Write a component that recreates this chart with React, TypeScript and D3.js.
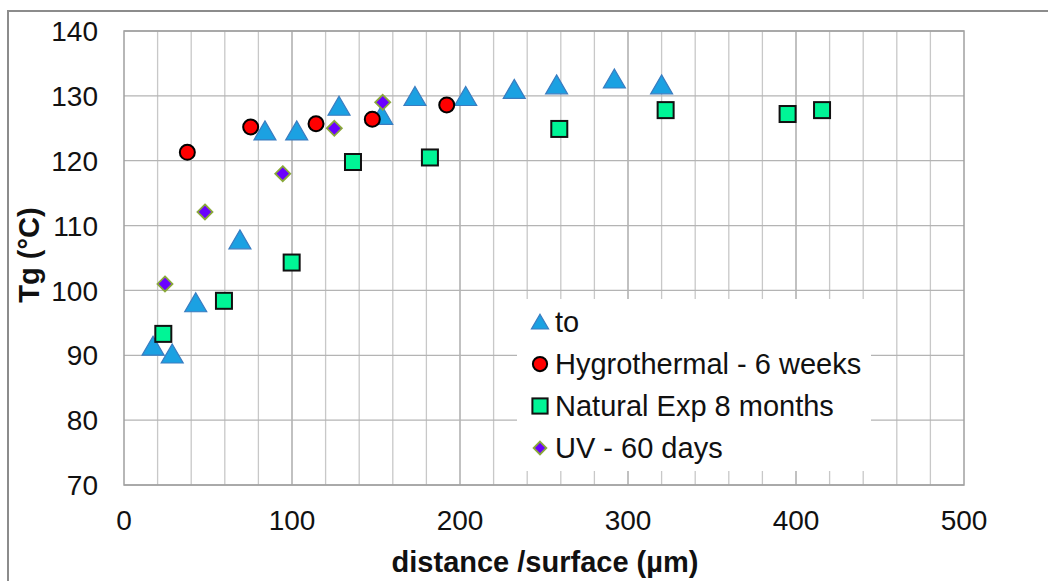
import React from "react";
import * as d3 from "d3";

const xTicks = [0, 100, 200, 300, 400, 500];
const yTicks = [70, 80, 90, 100, 110, 120, 130, 140];

const toX = [17.3, 28.7, 42.7, 69, 83.9, 102.8, 128, 153.4, 173.2, 203.4, 232.3, 257.5, 291.9, 320];
const toY = [91.4, 90.2, 98.1, 107.8, 124.6, 124.6, 128.4, 127.0, 129.9, 129.9, 131.0, 131.7, 132.6, 131.7];

const hygX = [37.7, 75.4, 114.3, 147.8, 192.1];
const hygY = [121.3, 125.2, 125.7, 126.4, 128.6];

const natX = [23.4, 59.5, 99.8, 136.3, 182.1, 259.1, 322.4, 395.0, 415.5];
const natY = [93.3, 98.4, 104.3, 119.8, 120.5, 124.9, 127.8, 127.2, 127.8];

const uvX = [24.4, 48.2, 94.5, 125.2, 154];
const uvY = [101.0, 112.1, 118.0, 125.0, 129.0];

const seriesNames = ["to", "Hygrothermal - 6 weeks", "Natural Exp 8 months", "UV - 60 days"];

const FONT = "Arial, 'Liberation Sans', sans-serif";

function Marker({ kind, x, y, s = 1 }: { kind: number; x: number; y: number; s?: number }) {
  if (kind === 0) {
    const p = `M${x},${y - 10 * s} L${x + 11 * s},${y + 9 * s} L${x - 11 * s},${y + 9 * s} Z`;
    return <path d={p} fill="#1ba1e2" stroke="#3a7cc0" strokeWidth={1.2} />;
  }
  if (kind === 1) {
    return <circle cx={x} cy={y} r={7.5 * s} fill="#ff0000" stroke="#000" strokeWidth={2} />;
  }
  if (kind === 2) {
    const h = 8 * s;
    return <rect x={x - h} y={y - h} width={2 * h} height={2 * h} fill="#00f596" stroke="#111" strokeWidth={2} />;
  }
  const d = 7.5 * s;
  const p = `M${x},${y - d} L${x + d},${y} L${x},${y + d} L${x - d},${y} Z`;
  return <path d={p} fill="#6a00ff" stroke="#8aa83a" strokeWidth={1.8} />;
}

export default function App() {
  const left = 124, right = 964, top = 31, bottom = 485;
  const x = d3.scaleLinear().domain([0, 500]).range([left, right]);
  const y = d3.scaleLinear().domain([70, 140]).range([bottom, top]);
  const minorX = d3.range(20, 500, 20).filter((v) => v % 100 !== 0);
  const majorX = [100, 200, 300, 400];

  const series = [
    { xs: toX, ys: toY },
    { xs: hygX, ys: hygY },
    { xs: natX, ys: natY },
    { xs: uvX, ys: uvY },
  ];

  const legX = 517, legY = 299, legW = 354, legH = 172;
  const legRows = [322, 364, 406, 448];

  return (
    <svg width={1048} height={581} style={{ position: "absolute", left: 0, top: 0 }}>
      <rect x={0} y={0} width={1048} height={581} fill="#fff" />
      <rect x={8} y={11} width={1050} height={600} fill="#fff" stroke="#8c8c8c" strokeWidth={2} />
      {minorX.map((v) => (
        <line key={"mx" + v} x1={x(v)} x2={x(v)} y1={top} y2={bottom} stroke="#c8c8c8" strokeWidth={1.3} />
      ))}
      {majorX.map((v) => (
        <line key={"Mx" + v} x1={x(v)} x2={x(v)} y1={top} y2={bottom} stroke="#a0a0a0" strokeWidth={1.3} />
      ))}
      {yTicks.map((v) => (
        <line key={"gy" + v} x1={left} x2={right} y1={y(v)} y2={y(v)} stroke="#b4b4b4" strokeWidth={1.3} />
      ))}
      <rect x={left} y={top} width={right - left} height={bottom - top} fill="none" stroke="#a0a0a0" strokeWidth={1.5} />

      {yTicks.map((v) => (
        <text key={"yl" + v} x={98} y={y(v)} dy="0.36em" textAnchor="end" fontFamily={FONT} fontSize={28} fill="#111">
          {v}
        </text>
      ))}
      {xTicks.map((v) => (
        <text key={"xl" + v} x={x(v)} y={530} textAnchor="middle" fontFamily={FONT} fontSize={28} fill="#111">
          {v}
        </text>
      ))}

      <text x={545} y={572} textAnchor="middle" fontFamily={FONT} fontSize={29} fontWeight="bold" fill="#111">
        distance /surface (µm)
      </text>
      <text
        transform={`translate(39,255) rotate(-90)`}
        textAnchor="middle"
        fontFamily={FONT}
        fontSize={29}
        fontWeight="bold"
        fill="#111"
      >
        Tg (°C)
      </text>

      {series.map((s, si) =>
        s.xs.map((xv, i) => <Marker key={si + "-" + i} kind={si} x={x(xv)} y={y(s.ys[i])} />)
      )}

      <rect x={legX} y={legY} width={legW} height={legH} fill="#fff" />
      {seriesNames.map((n, i) => (
        <g key={n}>
          <Marker kind={i} x={540} y={legRows[i]} s={i === 0 ? 0.78 : i === 3 ? 0.85 : 0.95} />
          <text x={555} y={legRows[i]} dy="0.36em" fontFamily={FONT} fontSize={29} fill="#111">
            {n}
          </text>
        </g>
      ))}
    </svg>
  );
}
